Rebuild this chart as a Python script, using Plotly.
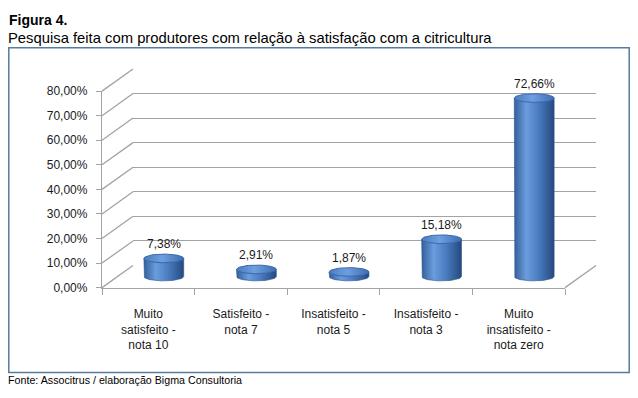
import numpy as np
import plotly.graph_objects as go

# ---------------- data ----------------
categories = ["Muito<br>satisfeito -<br>nota 10", "Satisfeito -<br>nota 7",
              "Insatisfeito -<br>nota 5", "Insatisfeito -<br>nota 3",
              "Muito<br>insatisfeito -<br>nota zero"]
values = [0.0738, 0.0291, 0.0187, 0.1518, 0.7266]
y_ticks = [0.0, 0.1, 0.2, 0.3, 0.4, 0.5, 0.6, 0.7, 0.8]
title_text = "Figura 4."
subtitle_text = "Pesquisa feita com produtores com relação à satisfação com a citricultura"
source_text = "Fonte: Associtrus / elaboração Bigma Consultoria"

# ---------------- geometry (page pixels) ----------------
W, H = 622, 382              # figure size (page has 8px body margin)
OX, OY = 8, 8
FX0, FX1 = 102, 565          # front plane x extent
FY0, FY1 = 291, 87           # front plane y of 0 and of y max
DX, DY = 31, 23              # depth offset of back wall
YMAX = 0.8
PXU = (FY0 - FY1) / YMAX     # pixels per unit


def px(x):
    return (x - OX) / W


def py(y):
    return 1 - (y - OY) / H


grid_col = "#a3a3a3"
txt_col = "#1a1a1a"
FONT = "Liberation Sans, Arial, sans-serif"

fig = go.Figure()

# back wall placeholder trace (so subplot x2/y2 exists)
fig.add_trace(go.Scatter(x=[0], y=[-1], xaxis="x2", yaxis="y2", mode="markers",
                         marker=dict(opacity=0), hoverinfo="skip", showlegend=False))
# front axis trace (invisible, carries categories)
fig.add_trace(go.Bar(x=categories, y=[0] * len(categories), xaxis="x", yaxis="y",
                     marker=dict(opacity=0), hoverinfo="skip", showlegend=False))

# cylinders on the middle plane (x3/y3)
hw = 0.215
e = 4.5 / PXU
th_bot = np.linspace(np.pi, 2 * np.pi, 40)
th_full = np.linspace(0, 2 * np.pi, 80)
for i, v in enumerate(values):
    xs = [i - hw, i - hw] + list(i + hw * np.cos(th_bot)) + [i + hw, i - hw]
    ys = [v, 0] + list(e * np.sin(th_bot)) + [v, v]
    fig.add_trace(go.Scatter(
        x=xs, y=ys, xaxis="x3", yaxis="y3", mode="lines", fill="toself",
        line=dict(width=0.6, color="#2a5189"),
        fillgradient=dict(type="horizontal",
                          colorscale=[[0, "#33609c"], [0.3, "#6b9cdd"],
                                      [0.6, "#4a7dc1"], [1, "#26497e"]]),
        hoverinfo="skip", showlegend=False))
    fig.add_trace(go.Scatter(
        x=list(i + hw * np.cos(th_full)), y=list(v + e * np.sin(th_full)),
        xaxis="x3", yaxis="y3", mode="lines", fill="toself",
        line=dict(width=1, color="#3a69a8"),
        fillgradient=dict(type="horizontal",
                          colorscale=[[0, "#4a7cc0"], [0.45, "#6f9fe0"], [1, "#3d6eb2"]]),
        hoverinfo="skip", showlegend=False))

shapes = []
# left side wall diagonals at every tick
for t in y_ticks:
    yf = FY0 - t * PXU
    shapes.append(dict(type="line", xref="paper", yref="paper",
                       x0=px(FX0), y0=py(yf), x1=px(FX0 + DX), y1=py(yf - DY),
                       line=dict(color=grid_col, width=1.3)))
# right floor diagonal
shapes.append(dict(type="line", xref="paper", yref="paper",
                   x0=px(FX1), y0=py(FY0), x1=px(FX1 + DX), y1=py(FY0 - DY),
                   line=dict(color=grid_col, width=1.3)))
# outer border
shapes.append(dict(type="rect", xref="paper", yref="paper",
                   x0=px(8.8), y0=py(42), x1=px(629.2), y1=py(379),
                   line=dict(color="#587b9b", width=1.5)))

annotations = []
for i, v in enumerate(values):
    annotations.append(dict(x=i, y=v, xref="x3", yref="y3", yanchor="bottom",
                            yshift=5, showarrow=False,
                            text=f"{v * 100:.2f}%".replace(".", ","),
                            font=dict(size=12, color=txt_col, family=FONT)))
annotations.append(dict(x=px(7), y=py(13), xref="paper", yref="paper", xanchor="left",
                        yanchor="middle", showarrow=False, text=f"<b>{title_text}</b>",
                        font=dict(size=14, color="#000", family=FONT)))
annotations.append(dict(x=px(6), y=py(32), xref="paper", yref="paper", xanchor="left",
                        yanchor="middle", showarrow=False, text=subtitle_text,
                        font=dict(size=14.8, color="#000", family=FONT)))
annotations.append(dict(x=px(6), y=py(387), xref="paper", yref="paper", xanchor="left",
                        yanchor="middle", showarrow=False, text=source_text,
                        font=dict(size=10.7, color="#000", family=FONT)))

pad = 0.04
mid_x0, mid_x1 = FX0 + DX / 2, FX1 + DX / 2
mid_y0 = FY0 - DY / 2
fig.update_layout(
    width=W, height=H, margin=dict(l=0, r=0, t=0, b=0),
    paper_bgcolor="white", plot_bgcolor="rgba(0,0,0,0)",
    separators=",.", showlegend=False,
    font=dict(family=FONT, size=12, color=txt_col),
    xaxis=dict(domain=[px(FX0), px(FX1)], anchor="y", type="category",
               range=[-0.5, len(categories) - 0.5], tickson="boundaries",
               ticks="outside", ticklen=6, tickcolor=grid_col, tickwidth=1.3,
               showline=True, linecolor=grid_col, linewidth=1.3, showgrid=False,
               ticklabelstandoff=15, tickfont=dict(size=12, color=txt_col),
               fixedrange=True),
    yaxis=dict(domain=[py(FY0), py(FY1)], anchor="x", range=[0, YMAX],
               tickvals=y_ticks, tickformat=".2%", ticks="outside", ticklen=5,
               tickcolor=grid_col, tickwidth=1.3, showline=True, linecolor=grid_col,
               linewidth=1.3, showgrid=False, zeroline=False, ticklabelstandoff=6,
               tickfont=dict(size=12, color=txt_col), fixedrange=True),
    xaxis2=dict(domain=[px(FX0 + DX), px(FX1 + DX)], anchor="y2", range=[0, 1],
                showgrid=False, showticklabels=False, showline=False, zeroline=False,
                ticks=""),
    yaxis2=dict(domain=[py(FY0 - DY), py(FY1 - DY)], anchor="x2", range=[0, YMAX],
                tickvals=y_ticks, showgrid=True, gridcolor=grid_col, gridwidth=1.3,
                showticklabels=False, zeroline=False, showline=False, ticks=""),
    xaxis3=dict(domain=[px(mid_x0), px(mid_x1)], anchor="y3",
                range=[-0.5, len(values) - 0.5], visible=False),
    yaxis3=dict(domain=[py(mid_y0 + pad * PXU), py(mid_y0 - (YMAX + pad) * PXU)],
                anchor="x3", range=[-pad, YMAX + pad], visible=False),
    shapes=shapes, annotations=annotations,
)

fig.write_html("out.html")
